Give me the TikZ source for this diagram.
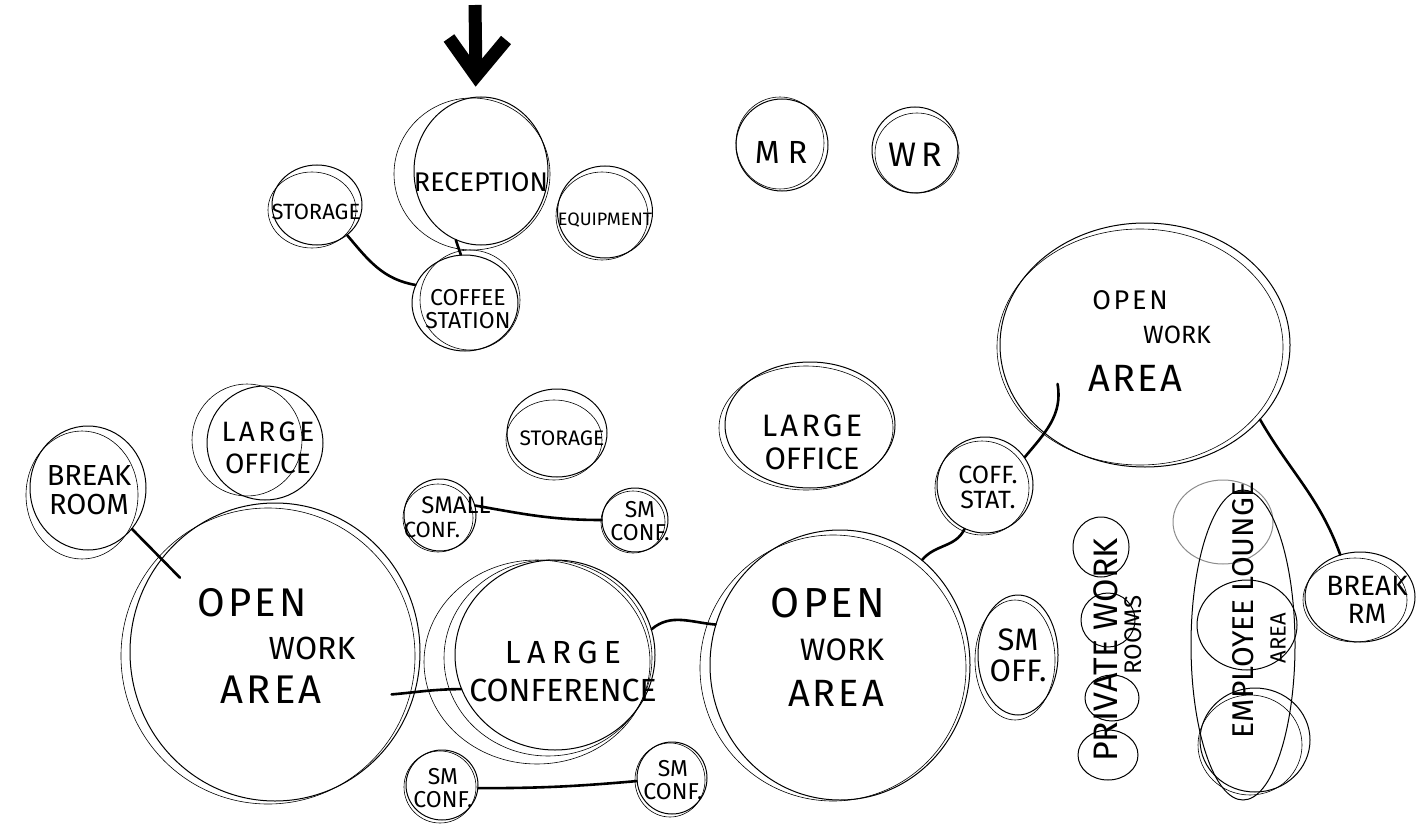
\documentclass[tikz,border=0pt]{standalone}
\usepackage{fontspec}
\setmainfont{Fira Sans}
\usetikzlibrary{shapes.geometric,calc}
\newcommand{\hsz}[1]{\fontsize{#1}{#1}\selectfont}
\newcommand{\spc}[2]{{\addfontfeature{LetterSpace=#1}#2}}
\begin{document}
\begin{tikzpicture}[x=1pt,y=-1pt,
  bub/.style={draw, ellipse, line width=1pt, inner sep=0pt},
  sz/.style 2 args={minimum width=#1, minimum height=#2},
  sk/.style={line width=0.6pt},
  lbl/.style={inner sep=0pt, align=center},
  link/.style={line width=2.6pt, line cap=round},
  entry/.style={line width=13pt}]
\useasboundingbox[fill=white] (0,0) rectangle (1427,824);

% ---------- top cluster ----------
\coordinate (arT) at (475,5);
\coordinate (arB) at (476,76);
\coordinate (arL) at (449,38);
\coordinate (arR) at (506,40);
\draw[entry] (arT) -- (arB);
\draw[entry, line join=miter] (arL) -- (arB) -- (arR);

\node[bub, sz={134pt}{148pt}] (rec) at (481,171) {};
\draw[sk] (472,174) ellipse [x radius=78pt, y radius=76pt];
\node[lbl, font=\hsz{27}] (trec) at (481,182) {RECEPTION};

\node[bub, sz={90pt}{80pt}] (sto1) at (317,205) {};
\draw[sk] (312,210) ellipse [x radius=44pt, y radius=38pt];
\node[lbl, font=\hsz{22}] (tsto1) at (316,212) {STORAGE};

\node[bub, sz={95pt}{92pt}] (equ) at (605,212) {};
\draw[sk] (602,216) ellipse [x radius=46pt, y radius=44pt];
\node[lbl, font=\hsz{18}] (tequ) at (605,220) {EQUIPMENT};

\node[bub, sz={106pt}{96pt}] (cof) at (465,303) {};
\draw[sk] (470,300) ellipse [x radius=50pt, y radius=50pt];
\node[lbl, font=\hsz{23}] (tcof) at (468,309) {COFFEE\\STATION};

\draw[link] (rec.-110) -- (cof.95);
\draw[link] (sto1.-45) to[out=-50,in=170] (cof.160);

\node[bub, sz={92pt}{92pt}] (mr) at (782,145) {};
\draw[sk] (780,143) ellipse [x radius=44pt, y radius=46pt];
\node[lbl, font=\hsz{32}] (tmr) at (781,152) {\spc{25}{MR}};

\node[bub, sz={86pt}{86pt}] (wr) at (915,150) {};
\draw[sk] (917,153) ellipse [x radius=42pt, y radius=40pt];
\node[lbl, font=\hsz{34}] (twr) at (915,155) {\spc{15}{WR}};

% ---------- left cluster ----------
\node[bub, sz={116pt}{114pt}] (loL) at (265,443) {};
\draw[sk] (247,440) ellipse [x radius=55pt, y radius=56pt];
\node[lbl, font=\hsz{28}] (tloL) at (268,448) {\spc{12}{LARGE}\\[4pt]OFFICE};

\node[bub, sz={116pt}{124pt}] (brk) at (88,488) {};
\draw[sk] (82,495) ellipse [x radius=56pt, y radius=64pt];
\node[lbl, font=\hsz{29}] (tbrk) at (89,490) {BREAK\\ROOM};

\node[bub, sz={100pt}{88pt}] (sto2) at (557,433) {};
\draw[sk] (554,440) ellipse [x radius=48pt, y radius=40pt];
\node[lbl, font=\hsz{21}] (tsto2) at (562,438) {STORAGE};

\node[bub, sz={72pt}{72pt}] (scA) at (440,515) {};
\draw[sk] (438,518) ellipse [x radius=35pt, y radius=34pt];
\node[lbl, font=\hsz{24}] (tscA1) at (456,505) {SMALL};
\node[lbl, font=\hsz{22}] (tscA2) at (432,530) {CONF.};

\node[bub, sz={66pt}{64pt}] (scB) at (635,520) {};
\draw[sk] (633,522) ellipse [x radius=32pt, y radius=31pt];
\node[lbl, font=\hsz{23}] (tscB) at (640,521) {SM\\CONF.};

\draw[link] (scA.15) to[out=-10,in=180] (scB.180);

\node[bub, sz={290pt}{298pt}] (owL) at (275,652) {};
\draw[sk] (268,656) ellipse [x radius=147pt, y radius=148pt];
\node[lbl, font=\hsz{40}] (owL1) at (252,603) {\spc{8}{OPEN}};
\node[lbl, font=\hsz{32}] (owL2) at (312,648) {WORK};
\node[lbl, font=\hsz{40}] (owL3) at (271,690) {\spc{8}{AREA}};

\draw[link] (brk.-43) -- ($(owL.center)!0.82!(owL.142)$);

\node[bub, sz={200pt}{190pt}] (lc) at (555,655) {};
\draw[sk] (537,662) ellipse [x radius=113pt, y radius=102pt];
\draw[sk] (548,658) ellipse [x radius=104pt, y radius=98pt];
\node[lbl, font=\hsz{32}] (tlc) at (563,671) {\spc{20}{LARGE}\\[6pt]CONFERENCE};

\draw[link] ($(owL.center)!0.85!(owL.-20)$) to[out=5,in=180] (lc.200);

\node[bub, sz={72pt}{70pt}] (scC) at (442,785) {};
\draw[sk] (440,787) ellipse [x radius=36pt, y radius=36pt];
\node[lbl, font=\hsz{23}] (tscC) at (443,788) {SM\\CONF.};

\node[bub, sz={70pt}{72pt}] (scD) at (672,778) {};
\draw[sk] (670,780) ellipse [x radius=35pt, y radius=37pt];
\node[lbl, font=\hsz{23}] (tscD) at (673,780) {SM\\CONF.};

\draw[link] (scC.-5) to[out=0,in=185] (scD.185);

% ---------- middle / right ----------
\node[bub, sz={260pt}{270pt}] (owM) at (840,665) {};
\draw[sk] (833,668) ellipse [x radius=133pt, y radius=133pt];
\node[lbl, font=\hsz{42}] (owM1) at (828,603) {\spc{8}{OPEN}};
\node[lbl, font=\hsz{31}] (owM2) at (842,650) {WORK};
\node[lbl, font=\hsz{38}] (owM3) at (836,693) {\spc{8}{AREA}};

\draw[link] (lc.15) to[out=40,in=175] (owM.162);

\node[bub, sz={170pt}{126pt}] (loR) at (810,425) {};
\draw[sk] (806,428) ellipse [x radius=87pt, y radius=62pt];
\node[lbl, font=\hsz{31}] (tloR) at (812,442) {\spc{10}{LARGE}\\[2pt]OFFICE};

\node[bub, sz={96pt}{96pt}] (cs) at (985,485) {};
\draw[sk] (982,488) ellipse [x radius=47pt, y radius=47pt];
\node[lbl, font=\hsz{25}] (tcs) at (988,487) {COFF.\\STAT.};

\node[bub, sz={290pt}{244pt}] (owR) at (1145,345) {};
\draw[sk] (1140,347) ellipse [x radius=143pt, y radius=118pt];
\node[lbl, font=\hsz{27}] (owR1) at (1130,300) {\spc{10}{OPEN}};
\node[lbl, font=\hsz{25}] (owR2) at (1177,335) {WORK};
\node[lbl, font=\hsz{38}] (owR3) at (1135,378) {\spc{6}{AREA}};

\draw[link] (owM.52) to[out=50,in=-115] (cs.-115);
\draw[link] (cs.35) to[out=50,in=-80] ($(owR.center)!0.68!(owR.-156)$);

\node[bub, sz={80pt}{120pt}] (smo) at (1018,655) {};
\draw[sk] (1015,660) ellipse [x radius=40pt, y radius=60pt];
\node[lbl, font=\hsz{31}] (tsmo) at (1018,655) {SM\\OFF.};

% private work rooms
\node[bub, sz={56pt}{60pt}] (pw1) at (1101,547) {};
\node[bub, sz={54pt}{54pt}] (pw2) at (1108,620) {};
\node[bub, sz={54pt}{46pt}] (pw3) at (1112,698) {};
\node[bub, sz={60pt}{50pt}] (pw4) at (1108,755) {};
\node[lbl, font=\hsz{34}, rotate=90] (tpw) at (1106,650) {PRIVATE WORK};
\node[lbl, font=\hsz{24}, rotate=90] (tpw2) at (1133,635) {ROOMS};

% employee lounge area
\node[bub, sz={100pt}{84pt}, draw=black!45] (el1) at (1223,522) {};
\node[bub, sz={104pt}{310pt}] (el2) at (1243,645) {};
\node[bub, sz={100pt}{90pt}] (el4) at (1247,625) {};
\node[bub, sz={110pt}{104pt}] (el3) at (1255,740) {};
\draw[sk] (1250,745) ellipse [x radius=52pt, y radius=50pt];
\node[lbl, font=\hsz{30}, rotate=90] (tel) at (1243,610) {EMPLOYEE LOUNGE};
\node[lbl, font=\hsz{22}, rotate=90] (tel2) at (1278,638) {AREA};

\node[bub, sz={110pt}{90pt}] (brm) at (1360,597) {};
\draw[sk] (1355,600) ellipse [x radius=52pt, y radius=42pt];
\node[lbl, font=\hsz{28}] (tbrm) at (1367,600) {BREAK\\RM};

\draw[link] (owR.-33) to[out=-60,in=110] (brm.115);
\end{tikzpicture}
\end{document}
